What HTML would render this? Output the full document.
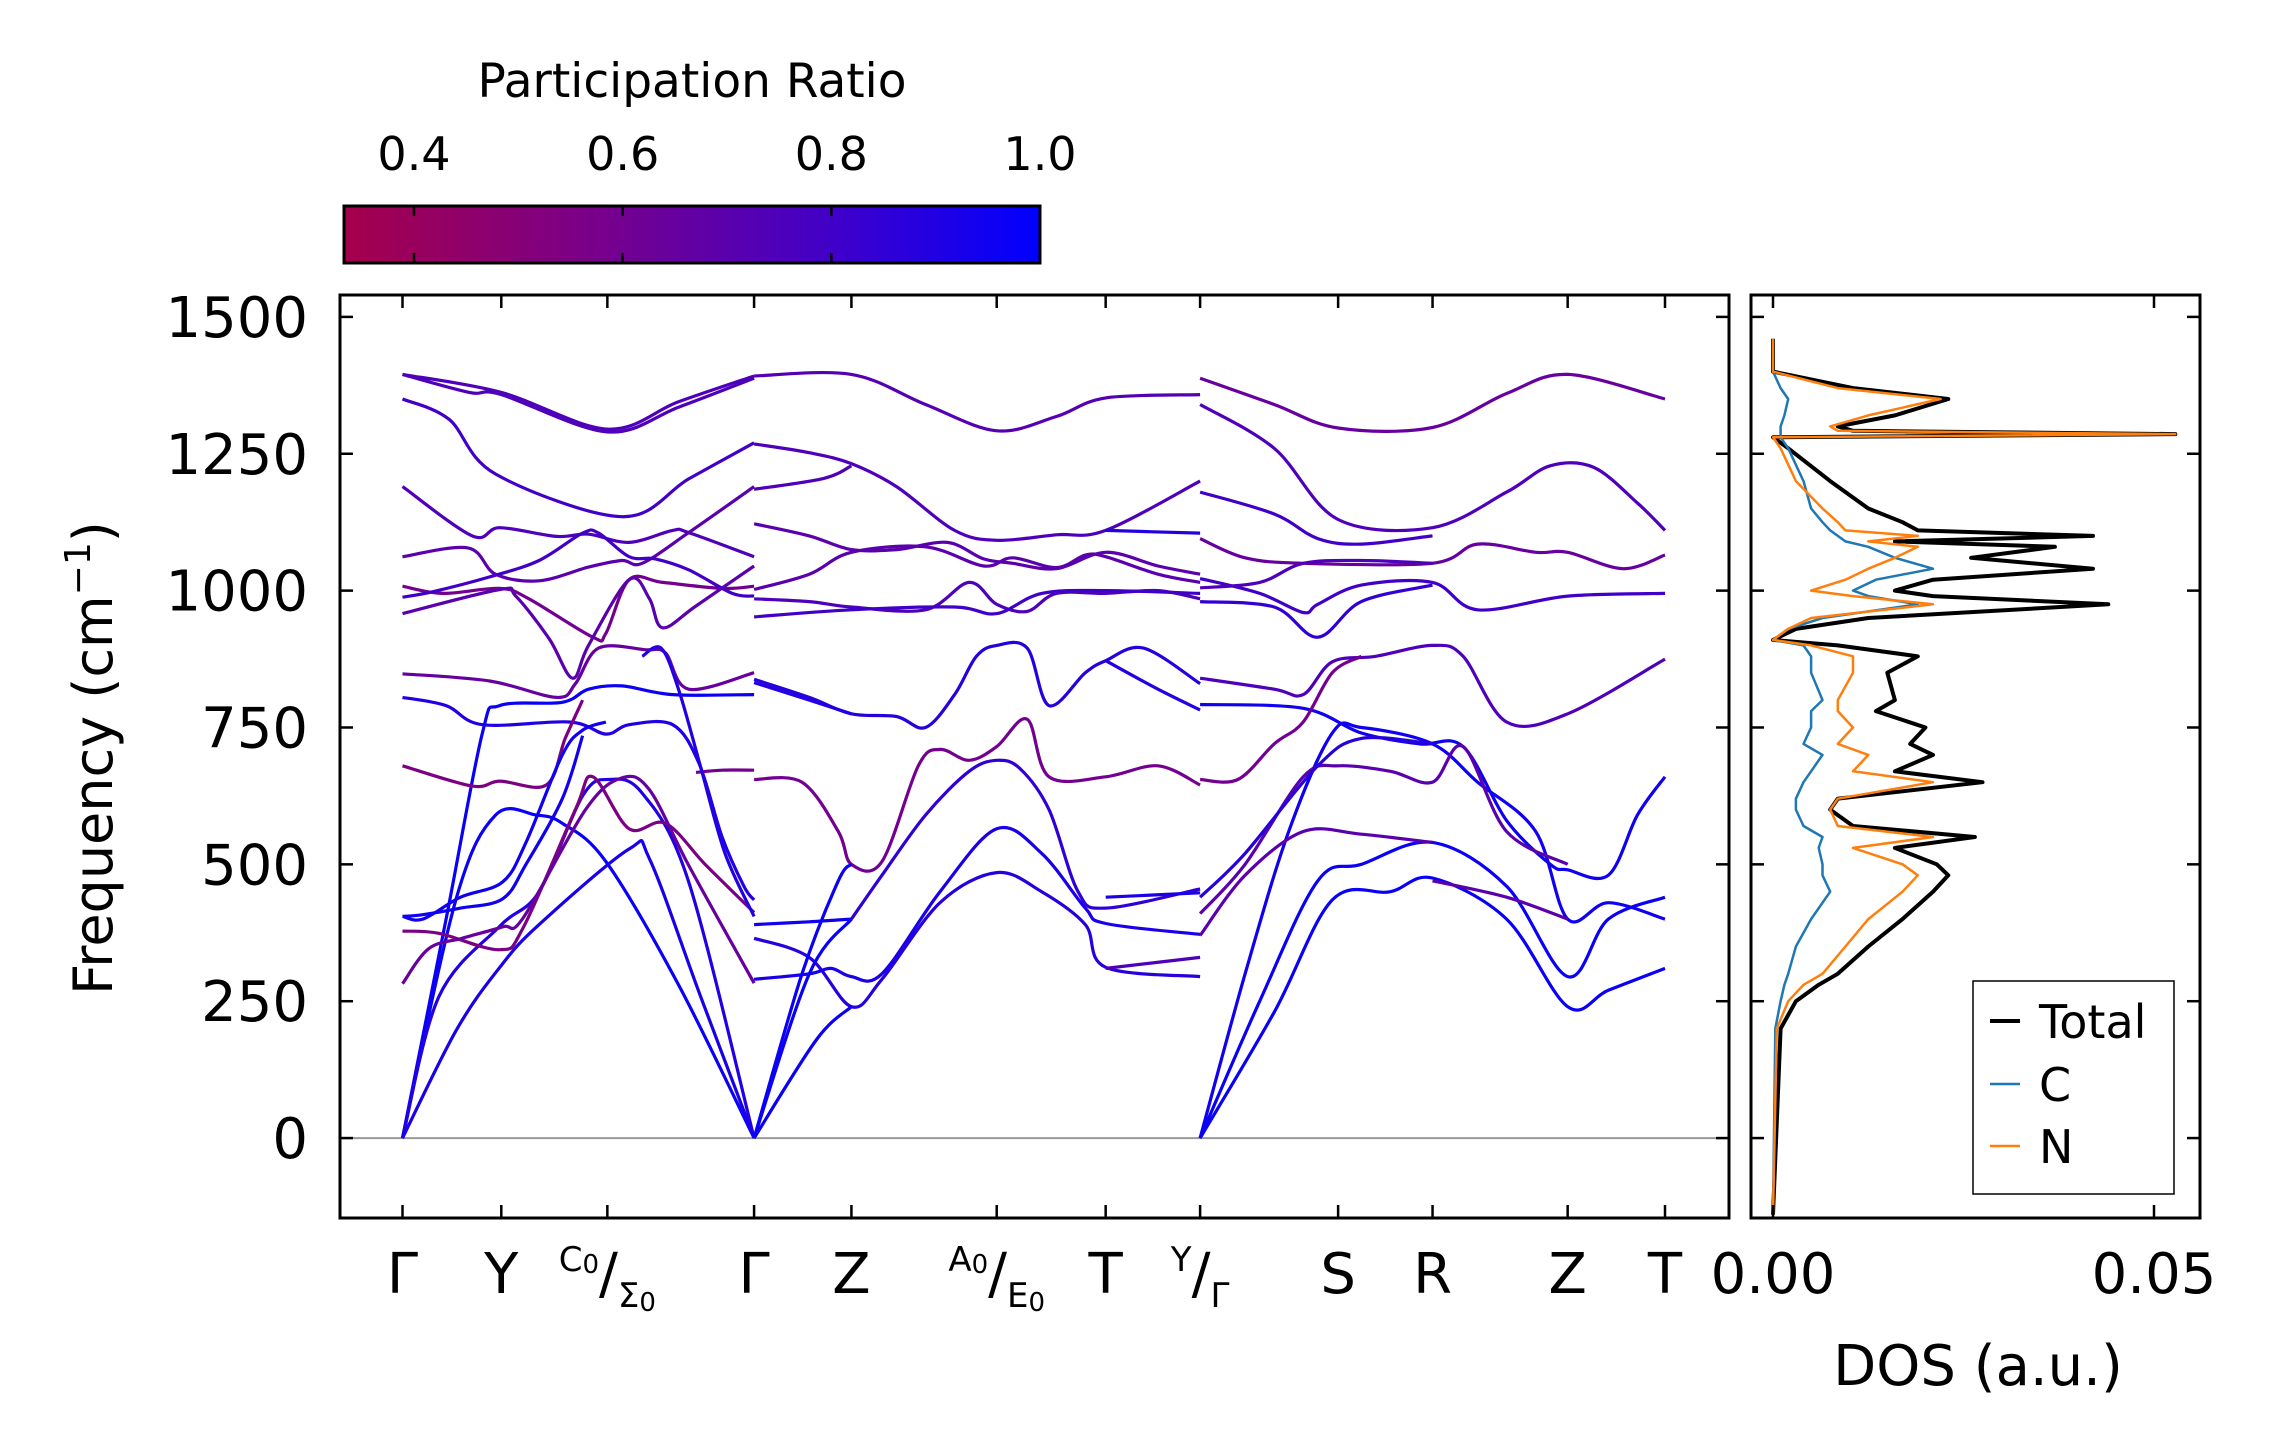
<!DOCTYPE html>
<html><head><meta charset="utf-8"><style>
html,body{margin:0;padding:0;background:#fff}
svg{display:block;font-family:"DejaVu Sans","Liberation Sans",sans-serif}
</style></head><body>
<svg id="fig" width="2278" height="1455" viewBox="0 0 2278 1455">
<defs>
<linearGradient id="cmap" x1="0" x2="1" y1="0" y2="0">
<stop offset="0" stop-color="rgb(165,0,75)"/>
<stop offset="0.4" stop-color="rgb(115,0,145)"/>
<stop offset="0.7" stop-color="rgb(65,0,200)"/>
<stop offset="1" stop-color="rgb(0,0,255)"/>
</linearGradient>
<clipPath id="mainclip"><rect x="340" y="295" width="1389" height="923"/></clipPath>
<clipPath id="dosclip"><rect x="1751" y="295" width="449" height="923"/></clipPath>
</defs>
<g id="colorbar">
<text x="692" y="97" font-size="47" text-anchor="middle">Participation Ratio</text>
<rect x="344" y="206" width="696" height="57" fill="url(#cmap)" stroke="#000" stroke-width="3"/>
</g>
<g id="bands" clip-path="url(#mainclip)"></g>
<g id="dos" clip-path="url(#dosclip)"></g>
<g id="axes"></g>
</svg>
<script>
const kTicks = [0, 68, 141, 242, 309, 409, 484, 549, 644, 709, 802, 869];
const kLabels = ["Γ","Y","C0/Σ0","Γ","Z","A0/E0","T","Y/Γ","S","R","Z","T"];
const yTicks = [0, 250, 500, 750, 1000, 1250, 1500];
const cbTicks = [0.4, 0.6, 0.8, 1.0];
// band branches: pr = participation ratio, pts = [k, frequency]
const bands = [
{pr:0.75, pts:[[0,1395],[68,1362],[141,1295],[190,1345],[242,1392]]},
{pr:0.75, pts:[[0,1395],[46,1362],[68,1358],[141,1290],[190,1335],[242,1388]]},
{pr:0.8, pts:[[0,1350],[32,1313],[64,1213],[151,1135],[197,1204],[242,1270]]},
{pr:0.75, pts:[[0,1190],[48,1100],[67,1115],[106,1099],[128,1103],[156,1088],[186,1110],[197,1106],[242,1062]]},
{pr:0.7, pts:[[0,1062],[45,1078],[64,1030],[94,1018],[128,1043],[151,1055],[165,1050],[197,1106],[242,1190]]},
{pr:0.6, pts:[[0,1008],[28,995],[67,1004],[87,985],[131,915],[140,922],[156,1020],[179,1015],[220,1004],[242,1008]]},
{pr:0.8, pts:[[0,988],[21,998],[60,1025],[94,1055],[124,1105],[135,1105],[156,1062],[174,1058],[197,1038],[227,995],[242,990]]},
{pr:0.7, pts:[[0,958],[67,1002],[78,990],[101,912],[117,840],[128,900],[156,1020],[170,985],[179,932],[202,972],[242,1045]]},
{pr:0.65, pts:[[0,848],[60,835],[106,805],[119,830],[135,895],[167,892],[181,886],[197,820],[242,850]]},
{pr:0.9, pts:[[0,805],[30,790],[55,755],[115,760],[140,738],[156,755],[186,755],[204,685],[220,550],[235,460],[242,435]]},
{pr:0.97, pts:[[0,0],[30,400],[55,740],[67,790],[110,796],[128,820],[151,826],[186,810],[242,810]]},
{pr:0.97, pts:[[0,0],[37,438],[64,590],[92,590],[110,575],[140,505],[190,280],[242,0]]},
{pr:0.9, pts:[[0,0],[25,258],[67,387],[94,450],[124,625],[142,655],[165,630],[197,468],[242,0]]},
{pr:0.92, pts:[[0,0],[37,197],[67,312],[94,390],[156,528],[170,510],[205,260],[242,0]]},
{pr:0.55, pts:[[0,680],[48,643],[67,652],[99,645],[112,730],[124,800]]},
{pr:0.95, pts:[[0,405],[14,400],[40,440],[69,468],[85,540],[110,700],[124,745],[140,760]]},
{pr:0.95, pts:[[0,405],[14,408],[40,420],[69,437],[85,500],[110,620],[124,735]]},
{pr:0.55, pts:[[0,378],[25,374],[67,344],[83,384],[119,600],[131,660],[156,565],[181,575],[209,498],[242,412]]},
{pr:0.65, pts:[[0,282],[18,346],[41,365],[69,386],[83,402],[126,600],[151,658],[170,636],[197,498],[242,283]]},
{pr:0.6, pts:[[202,668],[220,672],[242,672]]},
{pr:0.9, pts:[[165,880],[178,895],[190,820],[205,680],[222,520],[242,405]]},
{pr:0.72, pts:[[242,1392],[309,1395],[360,1340],[409,1292],[450,1318],[484,1352],[549,1358]]},
{pr:0.75, pts:[[242,1268],[280,1252],[309,1232],[340,1190],[380,1110],[409,1092],[450,1102],[484,1110],[549,1200]]},
{pr:0.75, pts:[[242,1185],[290,1205],[309,1228]]},
{pr:0.7, pts:[[242,1122],[280,1100],[309,1075],[340,1075],[375,1088],[400,1058],[420,1050],[450,1040],[484,1070],[520,1045],[549,1030]]},
{pr:0.7, pts:[[242,1002],[280,1030],[309,1070],[360,1080],[400,1045],[420,1060],[450,1042],[470,1065],[484,1062],[520,1030],[549,1015]]},
{pr:0.75, pts:[[242,985],[280,980],[309,970],[360,965],[390,1015],[409,975],[430,962],[450,995],[484,995],[520,1000],[549,985]]},
{pr:0.8, pts:[[242,952],[309,965],[380,970],[409,958],[440,995],[484,1000],[549,995]]},
{pr:0.9, pts:[[484,1110],[549,1105]]},
{pr:0.88, pts:[[242,838],[280,805],[309,775],[340,770],[360,750],[380,810],[395,880],[409,900],[430,895],[445,790],[470,850],[484,872],[510,895],[549,830]]},
{pr:0.9, pts:[[242,832],[280,800],[309,775]]},
{pr:0.9, pts:[[484,872],[520,820],[549,782]]},
{pr:0.6, pts:[[242,655],[275,650],[300,560],[309,500],[330,505],[355,680],[370,710],[390,690],[409,715],[430,765],[445,660],[484,660],[520,680],[549,645]]},
{pr:0.85, pts:[[309,400],[330,480],[360,590],[390,670],[409,690],[425,675],[445,600],[465,450],[484,420],[549,455]]},
{pr:0.95, pts:[[242,390],[280,395],[309,400]]},
{pr:0.88, pts:[[242,365],[280,330],[309,240],[330,290],[370,430],[409,485],[440,450],[470,390],[484,312],[549,295]]},
{pr:0.92, pts:[[242,290],[280,300],[295,310],[309,295],[330,300],[370,450],[409,565],[440,520],[470,420],[484,392],[549,372]]},
{pr:0.97, pts:[[242,0],[280,300],[309,400]]},
{pr:0.97, pts:[[242,0],[275,300],[300,470],[309,500]]},
{pr:0.97, pts:[[242,0],[285,180],[309,240]]},
{pr:0.75, pts:[[484,310],[549,330]]},
{pr:0.92, pts:[[484,440],[549,448]]},
{pr:0.65, pts:[[549,1388],[600,1340],[644,1297],[709,1298],[760,1360],[802,1395],[869,1350]]},
{pr:0.75, pts:[[549,1340],[600,1260],[644,1130],[709,1115],[760,1180],[790,1228],[820,1225],[850,1160],[869,1110]]},
{pr:0.8, pts:[[549,1180],[600,1140],[630,1095],[660,1085],[709,1100]]},
{pr:0.65, pts:[[549,1095],[580,1060],[620,1050],[709,1050],[740,1085],[780,1070],[802,1070],[840,1040],[869,1065]]},
{pr:0.8, pts:[[549,1022],[590,995],[620,960],[630,975],[660,1010],[709,1015],[740,965],[802,990],[869,995]]},
{pr:0.75, pts:[[549,1005],[590,1015],[620,1050],[660,1055],[709,1050]]},
{pr:0.85, pts:[[549,980],[600,970],[630,915],[660,980],[709,1010]]},
{pr:0.75, pts:[[549,840],[600,820],[620,810],[640,870],[670,880],[709,900],[730,880],[760,760],[802,775],[869,875]]},
{pr:0.95, pts:[[549,792],[620,785],[660,740],[700,720],[730,715],[760,580],[790,500],[802,490],[830,480],[850,590],[869,660]]},
{pr:0.95, pts:[[549,0],[580,300],[610,560],[640,740],[660,750],[709,720],[740,650],[780,560],[802,400],[830,430],[869,400]]},
{pr:0.97, pts:[[549,0],[590,250],[630,470],[660,500],[709,540],[760,460],[802,295],[830,400],[869,440]]},
{pr:0.97, pts:[[549,0],[600,230],[640,435],[680,450],[709,475],[760,400],[802,240],[830,270],[869,310]]},
{pr:0.6, pts:[[549,655],[575,655],[600,720],[620,760],[640,850],[660,880]]},
{pr:0.7, pts:[[549,410],[580,500],[620,660],[644,680],[680,670],[709,650],[730,715],[760,560],[802,500]]},
{pr:0.7, pts:[[549,370],[580,480],[620,560],[660,555],[709,540]]},
{pr:0.88, pts:[[549,440],[580,520],[630,680],[660,730],[709,720]]},
{pr:0.7, pts:[[709,470],[760,440],[802,400]]}
];
// DOS data
const dosFreq  = [-140,200,250,280,300,350,400,450,480,500,530,550,570,600,620,650,670,700,720,750,780,800,850,880,900,910,930,950,975,990,1000,1020,1040,1060,1080,1090,1100,1110,1125,1150,1200,1260,1280,1286,1292,1300,1320,1350,1370,1400,1460];
const dosTotal = [0,0.001,0.003,0.006,0.0085,0.0125,0.017,0.021,0.023,0.0215,0.016,0.0265,0.0105,0.0075,0.0085,0.0275,0.016,0.021,0.018,0.020,0.0135,0.016,0.015,0.019,0.0085,0.0,0.003,0.0125,0.044,0.021,0.016,0.021,0.042,0.026,0.037,0.016,0.042,0.019,0.017,0.0125,0.0075,0.002,0.0,0.0528,0.0105,0.0085,0.016,0.023,0.0105,0.0,0.0];
const dosN     = [0,0.0005,0.002,0.004,0.0065,0.0095,0.0125,0.017,0.019,0.017,0.0105,0.021,0.0085,0.0075,0.0085,0.021,0.0105,0.0125,0.0085,0.0105,0.0085,0.0085,0.0105,0.0105,0.005,0.0,0.002,0.005,0.021,0.0105,0.005,0.0095,0.0125,0.016,0.019,0.0125,0.019,0.0095,0.0085,0.0065,0.003,0.001,0.0,0.0528,0.0085,0.0075,0.0125,0.022,0.0085,0.0,0.0];
const dosC     = [0,0.0003,0.001,0.0015,0.002,0.003,0.005,0.0075,0.0065,0.0065,0.006,0.0065,0.004,0.003,0.003,0.004,0.005,0.0065,0.004,0.005,0.005,0.0065,0.005,0.005,0.004,0.0,0.002,0.0065,0.019,0.0125,0.0105,0.0135,0.021,0.016,0.0125,0.0095,0.0085,0.0075,0.0065,0.005,0.004,0.002,0.001,0.001,0.001,0.001,0.0015,0.002,0.001,0.0,0.0];

const NS = "http://www.w3.org/2000/svg";
const M = {x0:340, x1:1729, y0:295, y1:1218};
const D = {x0:1751, x1:2200};
const fMin = -146, fMax = 1540;
const kMax = 869, kPadL = 62.5, kPadR = 64;
function xk(k){ return M.x0 + kPadL + k*( (M.x1-kPadR) - (M.x0+kPadL) )/kMax; }
function yf(f){ return M.y1 - (f - fMin)*(M.y1-M.y0)/(fMax-fMin); }
function xd(v){ return 1773 + v*7620; }
function xcb(v){ return 414 + (v-0.4)*(1040-414)/0.6; }
function prColor(p){
  const stops=[[0.334,[165,0,75]],[0.6,[115,0,145]],[0.8,[65,0,200]],[1.0,[0,0,255]]];
  if(p<=stops[0][0]) return 'rgb('+stops[0][1]+')';
  for(let i=1;i<stops.length;i++){ if(p<=stops[i][0]){ const a=stops[i-1],b=stops[i],t=(p-a[0])/(b[0]-a[0]);
    return 'rgb('+a[1].map((c,j)=>Math.round(c+(b[1][j]-c)*t)).join(',')+')'; } }
  return 'rgb(0,0,255)';
}
function mk(tag, attrs, parent){ const e=document.createElementNS(NS,tag); for(const a in attrs) e.setAttribute(a,attrs[a]); parent.appendChild(e); return e; }
function smooth(P){
  let d='M'+P[0][0].toFixed(1)+','+P[0][1].toFixed(1);
  for(let i=0;i<P.length-1;i++){
    const p0=P[Math.max(i-1,0)],p1=P[i],p2=P[i+1],p3=P[Math.min(i+2,P.length-1)];
    const c1=[p1[0]+(p2[0]-p0[0])/6,p1[1]+(p2[1]-p0[1])/6];
    const c2=[p2[0]-(p3[0]-p1[0])/6,p2[1]-(p3[1]-p1[1])/6];
    d+='C'+c1[0].toFixed(1)+','+c1[1].toFixed(1)+' '+c2[0].toFixed(1)+','+c2[1].toFixed(1)+' '+p2[0].toFixed(1)+','+p2[1].toFixed(1);
  }
  return d;
}
const gB=document.getElementById('bands');
const gD=document.getElementById('dos');
const gA=document.getElementById('axes');
const gCB=document.getElementById('colorbar');

const zl=mk('line',{x1:M.x0,x2:M.x1,y1:yf(0),y2:yf(0),stroke:'#999','stroke-width':2},gB);



bands.forEach((b,i)=>{
  const p=mk('path',{d:smooth(b.pts.map(q=>[xk(q[0]),yf(q[1])])),fill:'none',stroke:prColor(b.pr),'stroke-width':3.2,'stroke-linejoin':'round'},gB);
  
  
});

function dosLine(vals,color,w,name){
  const d=vals.map((v,i)=>(i?'L':'M')+xd(v).toFixed(1)+','+yf(dosFreq[i]).toFixed(1)).join('');
  const p=mk('path',{d:d,fill:'none',stroke:color,'stroke-width':w,'stroke-linejoin':'round'},gD);
  
  
}
dosLine(dosTotal,'#000',4,'dos-total-line');
dosLine(dosC,'#1f77b4',2.5,'dos-c-line');
dosLine(dosN,'#ff7f0e',2.5,'dos-n-line');

const f1=mk('rect',{x:M.x0,y:M.y0,width:M.x1-M.x0,height:M.y1-M.y0,fill:'none',stroke:'#000','stroke-width':3},gA);


const f2=mk('rect',{x:D.x0,y:M.y0,width:D.x1-D.x0,height:M.y1-M.y0,fill:'none',stroke:'#000','stroke-width':3},gA);



const TL=13;
yTicks.forEach(v=>{
  const y=yf(v);
  [[M.x0,TL],[M.x1,-TL],[D.x0,TL],[D.x1,-TL]].forEach(([x,l])=>{
    const t=mk('line',{x1:x,x2:x+l,y1:y,y2:y,stroke:'#000','stroke-width':2.5},gA);
    
    
  });
  const tx=mk('text',{x:308,y:y+20,'font-size':56,'text-anchor':'end'},gA);
  tx.textContent=v;
  
  
});
kTicks.forEach((k,i)=>{
  const x=xk(k);
  [[M.y0,TL],[M.y1,-TL]].forEach(([y,l])=>{
    const t=mk('line',{x1:x,x2:x,y1:y,y2:y+l,stroke:'#000','stroke-width':2.5},gA);
    
    
  });
  const lab=kLabels[i];
  const tx=mk('text',{x:x,y:1293,'font-size':56,'text-anchor':'middle'},gA);
  
  
  if(lab.indexOf('/')>=0){
    const parts=lab.split('/');
    const a=parts[0], b=parts[1];
    const s1=mk('tspan',{'font-size':34,dy:-22},tx); s1.textContent=a.length>1?a[0]:a;
    if(a.length>1){const s1b=mk('tspan',{'font-size':26,dy:2},tx); s1b.textContent=a.slice(1); }
    const s2=mk('tspan',{'font-size':56,dy:a.length>1?20:22},tx); s2.textContent='/';
    const s3=mk('tspan',{'font-size':34,dy:14},tx); s3.textContent=b.length>1?b[0]:b;
    if(b.length>1){const s3b=mk('tspan',{'font-size':26,dy:4},tx); s3b.textContent=b.slice(1);}
  } else tx.textContent=lab;
});
[0,0.05].forEach(v=>{
  const x=xd(v);
  [[M.y0,TL],[M.y1,-TL]].forEach(([y,l])=>{
    const t=mk('line',{x1:x,x2:x,y1:y,y2:y+l,stroke:'#000','stroke-width':2.5},gA);
    
    
  });
  const tx=mk('text',{x:x,y:1293,'font-size':56,'text-anchor':'middle'},gA);
  tx.textContent=v.toFixed(2);
  
  
});
cbTicks.forEach(v=>{
  const x=xcb(v);
  [[206,10],[263,-10]].forEach(([y,l])=>{
    const t=mk('line',{x1:x,x2:x,y1:y,y2:y+l,stroke:'#000','stroke-width':2.5},gCB);
    
    
  });
  const tx=mk('text',{x:x,y:170,'font-size':46,'text-anchor':'middle'},gCB);
  tx.textContent=v.toFixed(1);
  
  
});
const yt=mk('text',{x:0,y:0,'font-size':54,'text-anchor':'middle',transform:'translate(112,758) rotate(-90)'},gA);


yt.innerHTML='Frequency (cm<tspan font-size="36" dy="-22">−1</tspan><tspan dy="22">)</tspan>';
const xt=mk('text',{x:1978,y:1385,'font-size':56,'text-anchor':'middle'},gA);
xt.textContent='DOS (a.u.)';


const lg=mk('g',{},gA);


mk('rect',{x:1973,y:981,width:201,height:213,fill:'#fff',stroke:'#000','stroke-width':1.5},lg);
[['Total','#000',4,1021],['C','#1f77b4',2.5,1084],['N','#ff7f0e',2.5,1146]].forEach(([n,c,w,y])=>{
  const l=mk('line',{x1:1990,x2:2020,y1:y,y2:y,stroke:c,'stroke-width':w},lg);
  
  
  const t=mk('text',{x:2039,y:y+17,'font-size':46},lg);
  t.textContent=n;
  
  
});
</script>
</body></html>
